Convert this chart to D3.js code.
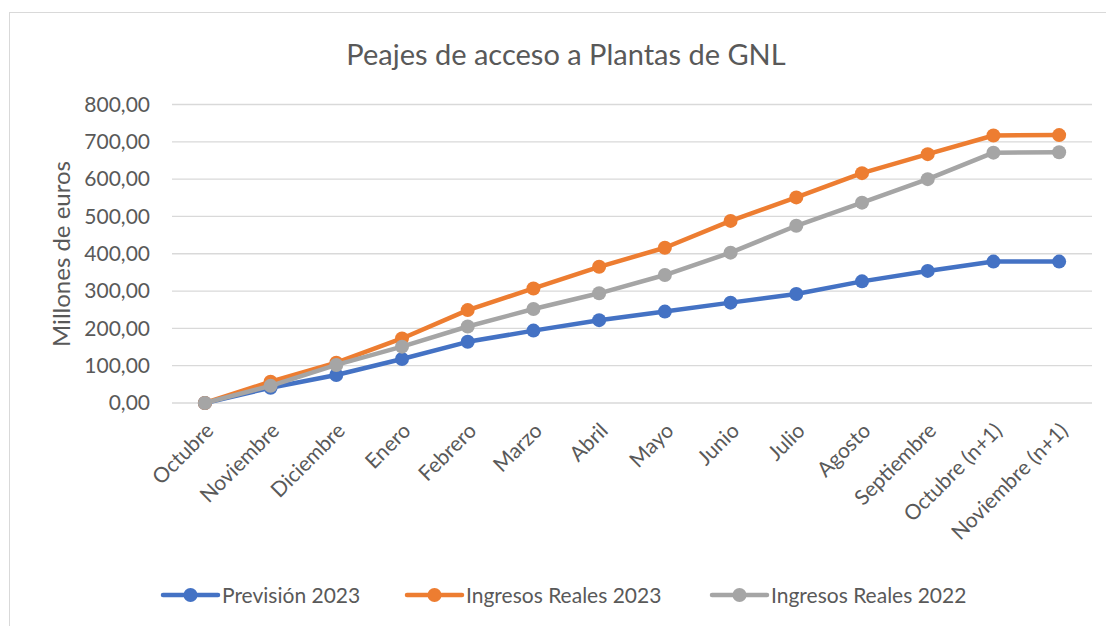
<!DOCTYPE html>
<html>
<head>
<meta charset="utf-8">
<script src="https://cdn.jsdelivr.net/npm/d3@7"></script>
<style>
  body { margin: 0; background: #fff; }
  svg { display: block; font-family: Lato, "Open Sans", sans-serif; }
</style>
</head>
<body>
<svg id="chart" width="1106" height="626"></svg>
<script>
// Categories and series (millones de euros, cumulative)
const months = ["Octubre", "Noviembre", "Diciembre", "Enero", "Febrero", "Marzo", "Abril",
  "Mayo", "Junio", "Julio", "Agosto", "Septiembre", "Octubre (n+1)", "Noviembre (n+1)"];
const prevision2023 = [0, 41, 75, 118, 164, 194, 222, 245, 269, 292, 326, 354, 379, 379];
const reales2023    = [0, 57, 108, 173, 249, 307, 365, 416, 488, 551, 616, 667, 717, 718];
const reales2022    = [0, 46, 102, 151, 205, 252, 294, 343, 403, 475, 537, 600, 671, 672];
const yTicks = [0, 100, 200, 300, 400, 500, 600, 700, 800];

const series = [
  { name: "Previsión 2023", values: prevision2023, color: "#4472c4" },
  { name: "Ingresos Reales 2023", values: reales2023, color: "#ed7d31" },
  { name: "Ingresos Reales 2022", values: reales2022, color: "#a5a5a5" }
];

const svg = d3.select("#chart");
const textColor = "#595959";

// outer chart border
svg.append("rect")
  .attr("x", 9.5).attr("y", 12.5)
  .attr("width", 1110).attr("height", 630)
  .attr("fill", "none").attr("stroke", "#d9d9d9").attr("stroke-width", 1);

const x = d3.scaleBand().domain(months).range([172, 1092]);
const y = d3.scaleLinear().domain([0, 800]).range([403, 104.5]);

// title
svg.append("text")
  .attr("x", 566).attr("y", 65)
  .attr("text-anchor", "middle")
  .attr("fill", textColor)
  .attr("font-size", "29px")
  .text("Peajes de acceso a Plantas de GNL");

// gridlines
svg.append("g")
  .selectAll("line")
  .data(yTicks)
  .join("line")
  .attr("x1", 172).attr("x2", 1092)
  .attr("y1", d => y(d)).attr("y2", d => y(d))
  .attr("stroke", "#d9d9d9").attr("stroke-width", 1.3);

// y axis
const fmt = d => d3.format(".2f")(d).replace(".", ",");
const yAxis = svg.append("g")
  .attr("transform", "translate(150,0)")
  .call(d3.axisLeft(y).tickValues(yTicks).tickFormat(fmt).tickSize(0).tickPadding(0));
yAxis.select(".domain").remove();
yAxis.selectAll("text")
  .attr("fill", textColor)
  .attr("font-size", "21px")
  .attr("font-family", "Lato, sans-serif");

// y axis title
svg.append("text")
  .attr("transform", "translate(70,254) rotate(-90)")
  .attr("text-anchor", "middle")
  .attr("fill", textColor)
  .attr("font-size", "24px")
  .text("Millones de euros");

// x axis labels
const xAxis = svg.append("g")
  .attr("transform", "translate(0,403)")
  .call(d3.axisBottom(x).tickSize(0).tickPadding(0));
xAxis.select(".domain").remove();
xAxis.selectAll("text")
  .attr("fill", textColor)
  .attr("font-size", "21px")
  .attr("font-family", "Lato, sans-serif")
  .attr("text-anchor", "end")
  .attr("dy", "0")
  .attr("transform", "translate(10,29) rotate(-45)");

// lines + markers
const cx = (d, i) => x(months[i]) + x.bandwidth() / 2;
const line = d3.line().x((d, i) => cx(d, i)).y(d => y(d));

const g = svg.append("g");
series.forEach(s => {
  g.append("path")
    .datum(s.values)
    .attr("d", line)
    .attr("fill", "none")
    .attr("stroke", s.color)
    .attr("stroke-width", 4.5)
    .attr("stroke-linejoin", "round");
  g.append("g")
    .selectAll("circle")
    .data(s.values)
    .join("circle")
    .attr("cx", cx)
    .attr("cy", d => y(d))
    .attr("r", 7)
    .attr("fill", s.color);
});

// legend
const legendX = [163, 407, 712];
const lg = svg.append("g");
series.forEach((s, i) => {
  const lx = legendX[i], ly = 595;
  lg.append("line")
    .attr("x1", lx).attr("x2", lx + 55)
    .attr("y1", ly).attr("y2", ly)
    .attr("stroke", s.color).attr("stroke-width", 4.5)
    .attr("stroke-linecap", "round");
  lg.append("circle")
    .attr("cx", lx + 27.5).attr("cy", ly).attr("r", 7)
    .attr("fill", s.color);
  lg.append("text")
    .attr("x", lx + 59).attr("y", ly + 7.5)
    .attr("fill", textColor)
    .attr("font-size", "21px")
    .text(s.name);
});
</script>
</body>
</html>
